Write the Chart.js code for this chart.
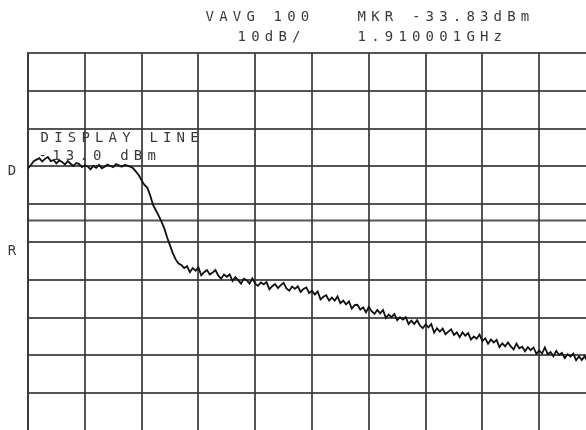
<!DOCTYPE html>
<html>
<head>
<meta charset="utf-8">
<script src="https://cdn.jsdelivr.net/npm/chart.js@4.4.0/dist/chart.umd.min.js"></script>
<style>
  html, body { margin: 0; padding: 0; background: #fff; overflow: hidden; }
  #wrap { width: 586px; height: 430px; overflow: hidden; position: relative; }
  canvas { position: absolute; left: 0; top: 0; filter: blur(0.4px); }
</style>
</head>
<body>
<div id="wrap"><canvas id="scope" width="600" height="440"></canvas></div>
<script>
// Screen annotations
const headerLine1 = ['VAVG 100', 'MKR -33.83dBm'];
const headerLine2 = ['10dB/', '1.910001GHz'];
const displayLineText = ['DISPLAY LINE', '-13.0 dBm'];

// Amplitude scale (dBm), 10 dB per division
const refLevel = 17;
const dbPerDiv = 10;
const numDivs = 10;
const displayLine = -13;
const refMarker = -33;
const limitLine = -27.3;

// Sweep: 201 points across 10 horizontal divisions
const sweepStep = 0.05;
const trace = [
  -13.5, -12.7, -11.6, -11.2, -10.8, -11.7, -11.0, -10.5, -11.6, -11.3,
  -12.2, -11.4, -11.8, -12.5, -11.6, -12.3, -12.9, -12.1, -12.4, -13.2,
  -12.7, -13.0, -13.8, -12.9, -13.4, -12.6, -13.5, -13.1, -12.5, -12.9,
  -13.2, -12.4, -12.7, -13.1, -12.6, -12.8, -13.1, -13.5, -14.4, -15.3,
  -16.7, -17.9, -18.6, -20.6, -23.1, -24.6, -26.0, -27.6, -29.4, -31.8,
  -33.9, -36.0, -37.6, -38.7, -39.1, -39.9, -39.4, -41.0, -39.9, -40.6,
  -39.7, -41.8, -41.0, -40.4, -41.6, -41.1, -40.4, -41.9, -42.7, -41.6,
  -42.2, -41.6, -43.3, -42.3, -43.1, -44.0, -42.7, -43.1, -44.0, -42.6,
  -44.0, -44.6, -43.7, -44.2, -43.6, -45.5, -44.7, -44.1, -45.2, -44.4,
  -43.8, -45.3, -45.9, -44.8, -45.4, -44.7, -46.2, -45.4, -45.0, -46.5,
  -45.9, -46.9, -46.1, -48.2, -47.5, -47.1, -48.5, -47.7, -48.5, -47.4,
  -49.2, -48.5, -49.5, -48.7, -50.6, -49.7, -49.6, -50.9, -50.3, -51.6,
  -50.2, -51.3, -52.0, -51.0, -51.9, -51.0, -53.1, -52.2, -52.9, -52.1,
  -53.7, -52.9, -53.5, -52.9, -54.7, -53.8, -54.7, -53.7, -55.1, -55.8,
  -54.8, -55.6, -54.7, -57.0, -55.8, -56.7, -55.9, -57.4, -56.7, -56.1,
  -57.6, -56.9, -58.2, -56.9, -57.8, -57.1, -58.8, -58.0, -58.6, -57.5,
  -59.2, -58.5, -59.9, -58.8, -59.6, -58.9, -60.8, -59.8, -60.6, -59.6,
  -60.6, -61.4, -59.9, -61.1, -60.7, -61.9, -60.8, -61.6, -60.9, -62.6,
  -61.7, -62.5, -60.9, -62.7, -62.1, -63.2, -61.8, -62.9, -62.3, -63.7,
  -62.7, -63.3, -62.5, -64.3, -63.3, -64.2, -63.2, -64.6, -63.7, -64.6,
  -64.3
];

const gridColor = 'rgba(55,55,55,0.85)';
const textColor = '#3a3a3a';
const charPitch = 13.6;

// Fixed-pitch text like the analyzer's character generator
function drawFixed(ctx, str, x, y) {
  for (let i = 0; i < str.length; i++) {
    ctx.fillText(str[i], x + i * charPitch + charPitch / 2, y);
  }
}

const annotations = {
  id: 'annotations',
  afterDraw(chart) {
    const ctx = chart.ctx;
    const y = chart.scales.y;
    ctx.save();
    ctx.fillStyle = textColor;
    ctx.font = '14px "DejaVu Sans Mono"';
    ctx.textAlign = 'center';
    ctx.textBaseline = 'middle';
    drawFixed(ctx, headerLine1[0], 203, 17);
    drawFixed(ctx, headerLine1[1], 355, 17);
    drawFixed(ctx, headerLine2[0], 235, 37);
    drawFixed(ctx, headerLine2[1], 355, 37);
    drawFixed(ctx, displayLineText[0], 38, 138);
    drawFixed(ctx, displayLineText[1], 36, 156);
    ctx.fillText('D', 12, y.getPixelForValue(displayLine) + 5);
    ctx.fillText('R', 12, y.getPixelForValue(refMarker) + 9);
    ctx.restore();
  }
};

new Chart(document.getElementById('scope'), {
  type: 'line',
  data: {
    datasets: [
      {
        data: trace.map((v, i) => ({ x: i * sweepStep, y: v })),
        borderColor: '#111',
        borderWidth: 1.8,
        pointRadius: 0,
        tension: 0
      },
      {
        data: [{ x: 0, y: limitLine }, { x: numDivs, y: limitLine }],
        borderColor: gridColor,
        borderWidth: 2,
        pointRadius: 0
      }
    ]
  },
  options: {
    responsive: false,
    devicePixelRatio: 1,
    animation: false,
    layout: { padding: { left: 28, top: 53, right: 4, bottom: 9 } },
    plugins: { legend: { display: false }, tooltip: { enabled: false } },
    scales: {
      x: {
        type: 'linear',
        min: 0,
        max: numDivs,
        ticks: { display: false, stepSize: 1 },
        grid: { color: gridColor, lineWidth: 2, drawTicks: false },
        border: { display: true, color: gridColor, width: 2 }
      },
      y: {
        type: 'linear',
        min: refLevel - dbPerDiv * numDivs,
        max: refLevel,
        ticks: { display: false, stepSize: dbPerDiv },
        grid: { color: gridColor, lineWidth: 2, drawTicks: false },
        border: { display: true, color: gridColor, width: 2 }
      }
    }
  },
  plugins: [annotations]
});
</script>
</body>
</html>
